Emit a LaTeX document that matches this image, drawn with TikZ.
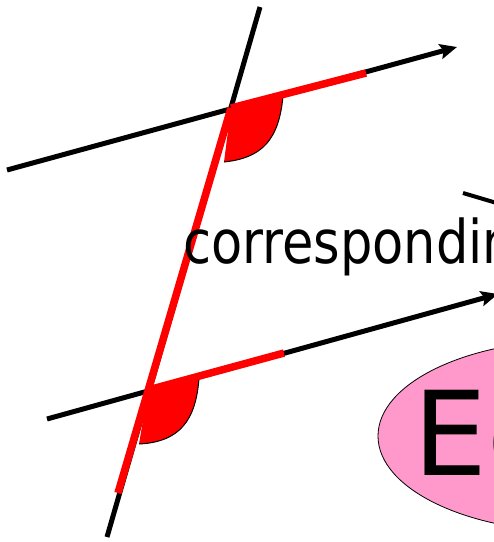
\documentclass[tikz,border=0pt]{standalone}
\usepackage{fontspec}
\setmainfont{DejaVu Sans}
\usetikzlibrary{arrows.meta,shapes.geometric}
\definecolor{anglered}{RGB}{255,0,0}
\definecolor{eqpink}{RGB}{255,153,204}
\tikzset{
  blackline/.style={line width=5pt, black},
  redline/.style={line width=7.5pt, anglered},
  arrowline/.style={blackline, -{Stealth[length=17pt,width=15pt,inset=3pt]}},
  anglefill/.style={fill=anglered, draw=none},
  anglecurve/.style={draw=black, line width=1pt},
}
\begin{document}
\begin{tikzpicture}[x=1pt,y=-1pt]
\useasboundingbox (0,0) rectangle (494,542);
\begin{scope}
\clip (0,0) rectangle (494,542);
% coordinates
\coordinate (t1) at (260,7);
\coordinate (t2) at (107,537);
\coordinate (o1) at (231,108);
\coordinate (o2) at (148,390);
\coordinate (a1s) at (7,170);
\coordinate (a1e) at (457,47);
\coordinate (a2s) at (47,419);
\coordinate (a2e) at (498,294);
\coordinate (r1e) at (366,73);
\coordinate (r2e) at (284,353);
\coordinate (rte) at (118,493);
\coordinate (p1) at (283,96);
\coordinate (q1) at (224,162);
\coordinate (p2) at (199,378);
\coordinate (q2) at (139,444);
\coordinate (s1) at (463,193);
\coordinate (s2) at (500,204);
% ellipse
\node[draw=black, line width=0.8pt, fill=eqpink, shape=ellipse, minimum width=400pt, minimum height=192pt, inner sep=0pt] (ell) at (578,436) {};
\node[anchor=base west, inner sep=0pt, font=\fontsize{117}{120}\selectfont] (eq) at (413,475) {Equal};
% black lines
\draw[blackline] (t1) -- (t2);
\draw[arrowline] (a1s) -- (a1e);
\draw[arrowline] (a2s) -- (a2e);
\draw[blackline, line width=4pt] (s1) -- (s2);
% angle fills
\fill[anglefill] (o1) -- (p1) .. controls (279,140) and (262,158) .. (q1) -- cycle;
\draw[anglecurve] (p1) .. controls (279,140) and (262,158) .. (q1);
\fill[anglefill] (o2) -- (p2) .. controls (196,420) and (180,442) .. (q2) -- cycle;
\draw[anglecurve] (p2) .. controls (196,420) and (180,442) .. (q2);
% red segments
\draw[redline] (o1) -- (r1e);
\draw[redline] (o2) -- (r2e);
\draw[redline] (o1) -- (rte);
% text
\node[anchor=base west, inner sep=0pt, font=\fontsize{51}{54}\selectfont] (corr) at (183,263) {\scalebox{1}[1.18]{corresponding}};
\end{scope}
\end{tikzpicture}
\end{document}
